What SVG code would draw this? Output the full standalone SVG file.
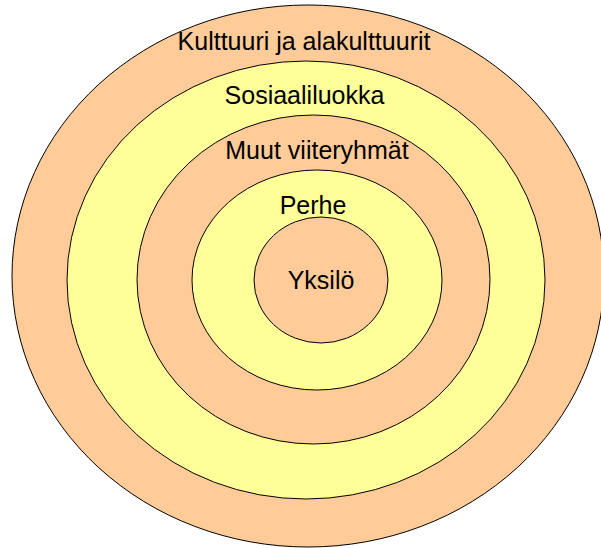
<svg xmlns="http://www.w3.org/2000/svg" width="601" height="548" viewBox="0 0 601 548">
<style>
.ring{stroke:#000;stroke-width:1}
.peach{fill:#FFCC99}
.yellow{fill:#FFFF99}
text{font-family:"Liberation Sans",Arial,sans-serif;font-size:25px;fill:#000;text-anchor:middle}
</style>
<rect width="601" height="548" fill="#fff"/>
<g id="kulttuuri">
<ellipse class="ring peach" cx="308" cy="276" rx="296" ry="271"/>
<text x="304" y="50">Kulttuuri ja alakulttuurit</text>
</g>
<g id="sosiaaliluokka">
<ellipse class="ring yellow" cx="306" cy="280" rx="239" ry="219"/>
<text x="304.5" y="104">Sosiaaliluokka</text>
</g>
<g id="viiteryhmat">
<ellipse class="ring peach" cx="313.5" cy="279.5" rx="176.5" ry="164.5"/>
<text x="317" y="159">Muut viiteryhmät</text>
</g>
<g id="perhe">
<ellipse class="ring yellow" cx="317" cy="280" rx="125" ry="110"/>
<text x="313" y="214">Perhe</text>
</g>
<g id="yksilo">
<ellipse class="ring peach" cx="321" cy="280" rx="67" ry="63"/>
<text x="321" y="289">Yksilö</text>
</g>
<g id="connectors"/>
</svg>
